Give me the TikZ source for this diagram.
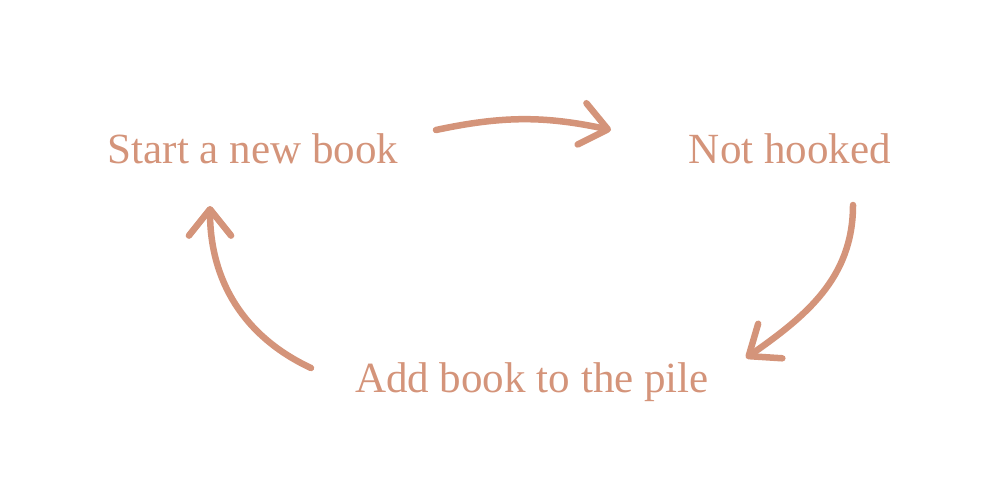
\documentclass[tikz,border=0pt]{standalone}
\usepackage{fontspec}
\setmainfont{Liberation Serif}
\usetikzlibrary{arrows.meta}
\definecolor{clay}{RGB}{212,148,122}

\begin{document}
\begin{tikzpicture}[
  x=0.02cm, y=-0.02cm,
  step label/.style={text=clay, font=\fontsize{24.5}{29}\selectfont, inner sep=0pt, anchor=base},
  loop arrow/.style={draw=clay, line width=3.7pt, line cap=round,
                     -{Straight Barb[length=15pt, width=24pt, round]}}]
\useasboundingbox (0,0) rectangle (1000,500);
\node[step label] (start) at (253,163) {Start a new book};
\node[step label] (hooked) at (790,163) {Not hooked};
\node[step label] (pile) at (532,392) {Add book to the pile};
% free ends of the three arrows
\coordinate (s1) at (436,130);
\coordinate (e1) at (611,130);
\coordinate (s2) at (853,205);
\coordinate (e2) at (746,358);
\coordinate (s3) at (311,368);
\coordinate (e3) at (210,206);
\draw[loop arrow] (s1) to[bend left=12] (e1);
\draw[loop arrow] (s2) to[out=-90, in=35] (e2);
\draw[loop arrow] (s3) to[out=155, in=-90] (e3);
\end{tikzpicture}
\end{document}
